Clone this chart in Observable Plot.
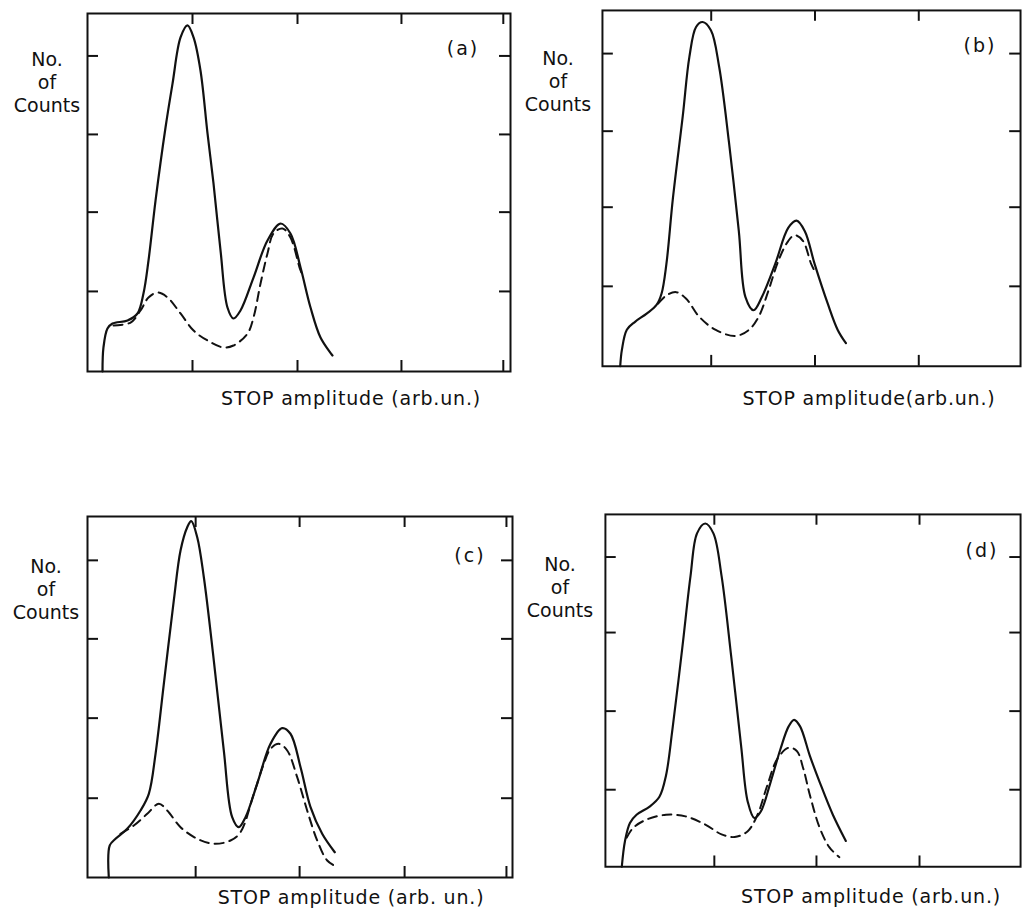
<!DOCTYPE html>
<html><head><meta charset="utf-8">
<script src="https://cdn.jsdelivr.net/npm/d3@7"></script>
<script src="https://cdn.jsdelivr.net/npm/@observablehq/plot@0.6"></script>
<style>
html,body{margin:0;padding:0;background:#fff;overflow:hidden}
#wrap{position:relative;width:1024px;height:911px;overflow:hidden;font-family:"DejaVu Sans",sans-serif;color:#111}
.t{position:absolute;transform:translate(-50%,-50%);white-space:nowrap;font-size:19px;line-height:1}
.p{position:absolute}
</style></head><body><div id="wrap"></div>
<script>
// ---- data (x in tick units, y in tick units) ----
const panelLabels = ["(a)", "(b)", "(c)", "(d)"];
const yLabelLines = ["No.", "of", "Counts"];
const xLabels = ["STOP amplitude (arb.un.)", "STOP amplitude(arb.un.)", "STOP amplitude (arb. un.)", "STOP amplitude (arb.un.)"];

const aSolid = [[0.143,0],[0.152,0.306],[0.19,0.548],[0.238,0.611],[0.381,0.65],[0.476,0.739],[0.533,0.994],[0.581,1.414],[0.648,2.178],[0.743,3.108],[0.81,3.669],[0.886,4.255],[0.952,4.408],[1.01,4.255],[1.076,3.834],[1.143,3.032],[1.2,2.395],[1.267,1.541],[1.333,0.815],[1.39,0.675],[1.457,0.777],[1.581,1.197],[1.714,1.669],[1.838,1.885],[1.933,1.758],[2.029,1.325],[2.124,0.815],[2.219,0.433],[2.333,0.204]];
const aDashed = [[0.248,0.586],[0.41,0.624],[0.505,0.777],[0.581,0.943],[0.667,1.006],[0.762,0.943],[0.886,0.739],[1.01,0.522],[1.143,0.395],[1.295,0.306],[1.39,0.331],[1.524,0.484],[1.581,0.688],[1.648,1.121],[1.714,1.503],[1.771,1.758],[1.857,1.822],[1.933,1.707],[2.029,1.287],[2.06,1.2]];

const bSolid = [[0.171,0],[0.188,0.217],[0.235,0.471],[0.314,0.573],[0.426,0.679],[0.521,0.79],[0.569,0.934],[0.616,1.316],[0.679,2.166],[0.774,3.227],[0.838,3.991],[0.902,4.373],[0.965,4.437],[1.045,4.331],[1.124,3.864],[1.219,2.888],[1.314,1.741],[1.378,0.892],[1.457,0.722],[1.536,0.892],[1.664,1.316],[1.79,1.783],[1.87,1.876],[1.95,1.741],[2.045,1.316],[2.171,0.806],[2.267,0.468],[2.346,0.297]];
const bDashed = [[0.536,0.806],[0.616,0.913],[0.711,0.955],[0.807,0.87],[0.933,0.637],[1.092,0.468],[1.283,0.391],[1.41,0.468],[1.505,0.637],[1.6,0.977],[1.695,1.359],[1.79,1.614],[1.854,1.69],[1.933,1.614],[2.012,1.316],[2.06,1.189]];

const cSolid = [[0.203,0],[0.212,0.408],[0.267,0.493],[0.378,0.62],[0.505,0.854],[0.584,1.066],[0.648,1.576],[0.727,2.468],[0.822,3.529],[0.886,4.166],[0.95,4.462],[0.988,4.539],[1.045,4.335],[1.108,3.825],[1.203,2.764],[1.298,1.618],[1.378,0.768],[1.441,0.641],[1.505,0.768],[1.616,1.194],[1.743,1.703],[1.854,1.902],[1.933,1.831],[2.029,1.405],[2.124,0.896],[2.235,0.557],[2.355,0.322]];
const cDashed = [[0.314,0.557],[0.441,0.662],[0.569,0.811],[0.679,0.939],[0.759,0.854],[0.886,0.641],[1.045,0.493],[1.203,0.429],[1.362,0.471],[1.457,0.577],[1.584,1.066],[1.679,1.448],[1.743,1.639],[1.822,1.703],[1.902,1.618],[1.997,1.278],[2.092,0.854],[2.188,0.471],[2.283,0.217],[2.378,0.131]];

const dSolid = [[0.159,0],[0.19,0.335],[0.238,0.569],[0.302,0.675],[0.429,0.781],[0.524,0.908],[0.588,1.185],[0.65,1.78],[0.746,2.841],[0.826,3.775],[0.889,4.327],[0.969,4.455],[1.048,4.327],[1.127,3.775],[1.222,2.713],[1.317,1.567],[1.381,0.845],[1.445,0.633],[1.508,0.717],[1.603,1.099],[1.698,1.525],[1.778,1.822],[1.831,1.907],[1.889,1.822],[1.984,1.439],[2.079,1.099],[2.207,0.675],[2.333,0.335]];
const dDashed = [[0.207,0.378],[0.27,0.506],[0.397,0.611],[0.588,0.675],[0.778,0.654],[0.969,0.548],[1.127,0.42],[1.254,0.386],[1.381,0.462],[1.476,0.675],[1.571,1.057],[1.667,1.397],[1.778,1.545],[1.857,1.503],[1.921,1.27],[1.984,0.93],[2.079,0.506],[2.174,0.251],[2.27,0.124]];

const aXTicks = [1, 2, 2.99, 3.96];
const bXTicks = [1.048, 2.048, 3.048];
const cXTicks = [1.03, 2.02, 3.02, 3.99];
const dXTicks = [1.057, 2.048, 3.048];
const aYTicks = [1.02, 2.03, 3.02, 4.02];
const bYTicks = [1.03, 2.05, 3.03, 4.03];
const cYTicks = [1.01, 2.03, 3.04, 4.04];
const dYTicks = [1.0, 2.02, 3.04, 4.02];

// ---- layout ----
const panels = [
  {left:87, top:13, bottom:371, right:510, solid:aSolid, dashed:aDashed, xt:aXTicks, yt:aYTicks,
   lab:[463,48], ylab:[47,[59,82,105]], xlab:[351,398]},
  {left:602, top:10, bottom:370, right:1025, solid:bSolid, dashed:bDashed, xt:bXTicks, yt:bYTicks,
   lab:[980,45], ylab:[558,[58,81,104]], xlab:[869,398]},
  {left:87, top:516, bottom:877, right:512, solid:cSolid, dashed:cDashed, xt:cXTicks, yt:cYTicks,
   lab:[470,555], ylab:[46,[566,589,612]], xlab:[351,897]},
  {left:605, top:514, bottom:873, right:1028, solid:dSolid, dashed:dDashed, xt:dXTicks, yt:dYTicks,
   lab:[982,550], ylab:[560,[564,587,610]], xlab:[871,896]}
];

const wrap = document.getElementById("wrap");
const ink = "#111";
const m = 4;
panels.forEach((p, i) => {
  const W = p.right - p.left, H = p.bottom - p.top;
  const xMax = W / 105, yMax = H / 78.5;
  const tx = 11 / 105, ty = 11 / 78.5;
  const chart = Plot.plot({
    width: W + 2 * m, height: H + 2 * m,
    marginTop: m, marginBottom: m, marginLeft: m, marginRight: m,
    x: {domain: [0, xMax], axis: null},
    y: {domain: [0, yMax], axis: null},
    style: {background: "transparent", overflow: "visible"},
    marks: [
      Plot.frame({stroke: ink, strokeWidth: 2}),
      Plot.ruleX(p.xt, {x: d => d, y1: 0, y2: ty, stroke: ink, strokeWidth: 2}),
      Plot.ruleX(p.xt, {x: d => d, y1: yMax - ty, y2: yMax, stroke: ink, strokeWidth: 2}),
      Plot.ruleY(p.yt, {y: d => d, x1: 0, x2: tx, stroke: ink, strokeWidth: 2}),
      Plot.ruleY(p.yt, {y: d => d, x1: xMax - tx, x2: xMax, stroke: ink, strokeWidth: 2}),
      Plot.line(p.dashed, {x: d => d[0], y: d => d[1], curve: "catmull-rom", stroke: ink, strokeWidth: 2, strokeDasharray: "9,6"}),
      Plot.line(p.solid, {x: d => d[0], y: d => d[1], curve: "catmull-rom", stroke: ink, strokeWidth: 2.2})
    ]
  });
  const holder = document.createElement("div");
  holder.className = "p";
  holder.style.left = (p.left - m) + "px";
  holder.style.top = (p.top - m) + "px";
  holder.appendChild(chart);
  wrap.appendChild(holder);

  const addText = (txt, x, y, extra) => {
    const d = document.createElement("div");
    d.className = "t";
    d.textContent = txt;
    d.style.left = x + "px";
    d.style.top = y + "px";
    if (extra) Object.assign(d.style, extra);
    wrap.appendChild(d);
  };
  addText(panelLabels[i], p.lab[0], p.lab[1], {letterSpacing: "2px"});
  yLabelLines.forEach((s, k) => addText(s, p.ylab[0], p.ylab[1][k], {fontSize: "19px"}));
  addText(xLabels[i], p.xlab[0], p.xlab[1], {letterSpacing: "0.8px"});
});
</script>
</body></html>
